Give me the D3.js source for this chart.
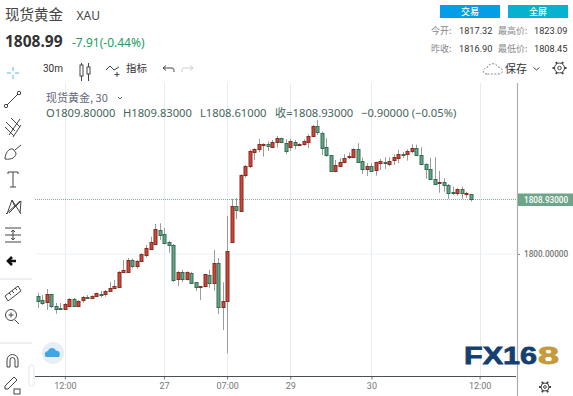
<!DOCTYPE html>
<html>
<head>
<meta charset="utf-8">
<script src="https://cdnjs.cloudflare.com/ajax/libs/d3/7.8.5/d3.min.js"></script>
<style>
  html, body { margin: 0; padding: 0; background: #fff; overflow: hidden; }
  svg { display: block; }
  text { font-family: "Noto Sans CJK SC", "Noto Sans", sans-serif; }
</style>
</head>
<body>
<svg id="chart" width="573" height="396"></svg>
<script>
// Candle values, oldest first
const opens = [1793.11,1792.46,1792.08,1793.49,1791.48,1791.15,1790.98,1791.52,1792.62,1791.52,1792.46,1792.95,1792.84,1793.00,1793.49,1793.44,1793.93,1794.43,1794.59,1796.93,1797.10,1798.97,1797.98,1798.74,1799.89,1800.82,1801.59,1803.93,1803.23,1802.02,1801.52,1795.95,1797.05,1795.79,1796.93,1795.36,1794.54,1794.64,1796.56,1795.30,1798.52,1791.26,1792.18,1801.97,1807.82,1807.10,1812.90,1814.48,1816.77,1817.16,1817.87,1817.98,1817.59,1818.36,1818.97,1818.25,1817.43,1818.41,1817.75,1817.92,1818.41,1819.34,1820.93,1819.89,1817.49,1816.18,1813.49,1814.48,1814.97,1815.79,1815.98,1817.21,1815.20,1813.88,1814.48,1813.77,1814.80,1815.03,1814.87,1815.41,1815.85,1816.34,1816.34,1816.89,1817.33,1816.18,1814.75,1813.93,1812.34,1811.69,1811.80,1811.36,1810.11,1809.89,1810.61,1809.95,1809.80];
const highs = [1793.66,1793.28,1794.26,1793.50,1791.97,1791.97,1792.02,1792.79,1792.79,1792.46,1793.11,1793.28,1793.23,1793.66,1793.98,1794.10,1795.41,1795.74,1797.21,1799.02,1799.34,1799.23,1799.02,1800.11,1801.48,1802.84,1804.92,1805.03,1804.26,1802.18,1801.64,1797.21,1797.43,1797.16,1797.05,1795.41,1794.75,1796.72,1797.38,1800.66,1799.34,1795.36,1806.23,1809.02,1809.18,1813.07,1814.59,1817.10,1817.33,1818.85,1818.15,1818.41,1818.69,1819.34,1819.07,1818.80,1818.85,1818.69,1818.15,1818.80,1819.62,1821.15,1821.97,1820.05,1818.97,1816.23,1815.41,1815.69,1816.34,1816.61,1817.33,1818.15,1815.79,1814.87,1814.87,1815.13,1815.57,1815.85,1815.85,1816.34,1817.05,1816.72,1817.16,1817.98,1817.92,1817.49,1814.87,1815.74,1815.85,1813.61,1812.41,1811.48,1811.03,1810.82,1811.03,1810.21,1809.83];
const lows = [1791.15,1791.64,1790.82,1791.15,1790.21,1790.82,1790.82,1791.48,1791.36,1791.36,1792.02,1792.67,1792.67,1792.95,1792.90,1793.00,1793.82,1794.31,1794.54,1796.89,1797.05,1797.66,1797.59,1798.69,1799.46,1800.77,1801.52,1802.30,1801.59,1800.21,1795.41,1794.75,1795.41,1795.69,1795.20,1793.93,1792.46,1794.54,1794.48,1793.98,1790.16,1787.54,1783.72,1801.85,1805.69,1807.05,1812.51,1814.05,1815.41,1816.67,1815.95,1816.89,1817.49,1817.43,1818.15,1816.39,1816.89,1817.16,1817.70,1817.75,1817.33,1819.23,1819.51,1816.23,1815.95,1813.44,1813.39,1814.43,1814.87,1815.57,1815.69,1814.97,1813.11,1812.79,1813.49,1812.84,1813.77,1813.93,1814.38,1814.59,1814.87,1815.74,1815.30,1816.51,1816.07,1814.54,1812.30,1812.13,1811.43,1810.05,1810.21,1809.02,1809.67,1809.56,1809.02,1809.18,1808.61];
const closes = [1792.34,1792.02,1793.39,1791.48,1791.03,1790.98,1791.75,1792.62,1791.52,1792.34,1792.90,1792.84,1793.11,1793.56,1793.44,1793.89,1794.48,1794.75,1797.10,1797.33,1799.02,1797.98,1798.80,1799.95,1801.03,1801.92,1804.05,1803.16,1801.69,1801.48,1795.85,1797.05,1795.85,1797.00,1795.30,1794.54,1794.70,1796.67,1795.30,1798.52,1791.26,1792.25,1800.44,1807.82,1807.10,1812.95,1814.43,1816.93,1817.21,1817.98,1818.08,1817.59,1818.36,1818.97,1818.25,1816.93,1818.48,1817.87,1817.98,1818.48,1819.34,1820.93,1819.95,1817.49,1816.11,1813.49,1814.54,1815.08,1815.69,1816.02,1817.21,1815.08,1813.88,1814.43,1813.66,1815.03,1815.20,1814.87,1815.30,1815.90,1816.44,1816.23,1816.89,1817.33,1816.11,1814.64,1813.88,1812.30,1811.52,1811.80,1811.36,1810.05,1809.95,1810.61,1809.89,1810.05,1808.93];

const timeIndex = [6, 28, 42, 56, 74, 98];
const timeLabels = ["12:00", "27", "07:00", "29", "30", "12:00"];
const priceTicks = [1800];
const lastPrice = 1808.93;

const statLabels = [["今开:", "最高价:"], ["昨收:", "最低价:"]];
const statValues = [["1817.32", "1823.09"], ["1816.90", "1808.45"]];

const width = 573;
const height = 396;
const plotTop = 83;
const axisBottomY = 376.5;
const axisRightX = 517;

const upColor = "#c8493a";
const upBorder = "#8c2a20";
const downColor = "#68a388";
const downBorder = "#2f6e52";

const svg = d3.select("#chart");

const x = d3.scaleLinear().domain([0, 98]).range([37.8, 479.6]);
const y = d3.scaleLinear().domain([1800, lastPrice]).range([254, 199.5]);

// Grid
svg.append("g")
  .selectAll("line")
  .data(timeIndex)
  .enter()
  .append("line")
  .attr("x1", d => Math.round(x(d)) + 0.5)
  .attr("x2", d => Math.round(x(d)) + 0.5)
  .attr("y1", plotTop)
  .attr("y2", axisBottomY)
  .attr("stroke", "#e4edf3")
  .attr("stroke-width", 1);

svg.append("g")
  .selectAll("line")
  .data(priceTicks)
  .enter()
  .append("line")
  .attr("x1", 35)
  .attr("x2", axisRightX)
  .attr("y1", d => y(d))
  .attr("y2", d => y(d))
  .attr("stroke", "#edf3f8")
  .attr("stroke-width", 1);

// Last price line
svg.append("line")
  .attr("x1", 35)
  .attr("x2", axisRightX)
  .attr("y1", y(lastPrice))
  .attr("y2", y(lastPrice))
  .attr("stroke", "#7fae98")
  .attr("stroke-width", 1)
  .attr("stroke-dasharray", "1 1");

// Candles
const candles = svg.append("g")
  .selectAll("g")
  .data(opens.map((o, i) => ({ i, o, h: highs[i], l: lows[i], c: closes[i] })))
  .enter()
  .append("g")
  .attr("transform", d => `translate(${Math.round(x(d.i))}, 0)`);

candles.append("line")
  .attr("x1", 0.5)
  .attr("x2", 0.5)
  .attr("y1", d => y(d.h))
  .attr("y2", d => y(d.l))
  .attr("stroke", "#9b9b9b")
  .attr("stroke-width", 1);

candles.append("rect")
  .attr("x", -1)
  .attr("width", 3)
  .attr("y", d => Math.round(y(Math.max(d.o, d.c))) + 0.5)
  .attr("height", d => Math.max(1, Math.round(Math.abs(y(d.o) - y(d.c)))))
  .attr("fill", d => d.c >= d.o ? upColor : downColor)
  .attr("stroke", d => d.c >= d.o ? upBorder : downBorder)
  .attr("stroke-width", 1);

// Axes
const xAxis = d3.axisBottom(x)
  .tickValues(timeIndex)
  .tickFormat((d, i) => timeLabels[i])
  .tickSize(3)
  .tickPadding(3);

const xAxisG = svg.append("g")
  .attr("transform", `translate(0, ${axisBottomY})`)
  .call(xAxis);
xAxisG.select(".domain").remove();
xAxisG.selectAll("line").attr("stroke", "#777");
xAxisG.selectAll("text")
  .attr("fill", "#777")
  .style("font-size", "9px")
  .style("font-family", "Roboto, sans-serif");

svg.append("line")
  .attr("x1", 35)
  .attr("x2", axisRightX - 1)
  .attr("y1", axisBottomY)
  .attr("y2", axisBottomY)
  .attr("stroke", "#4a4f5c")
  .attr("stroke-width", 1);

const yAxis = d3.axisRight(y)
  .tickValues(priceTicks)
  .tickFormat(d3.format(".5f"))
  .tickSize(3)
  .tickPadding(4);

const yAxisG = svg.append("g")
  .attr("transform", `translate(${axisRightX}, 0)`)
  .call(yAxis);
yAxisG.select(".domain").remove();
yAxisG.selectAll("line").attr("stroke", "#888");
yAxisG.selectAll("text")
  .attr("fill", "#777")
  .style("font-size", "8.2px")
  .style("font-weight", "500")
  .style("font-family", "Roboto, sans-serif");

svg.append("line")
  .attr("x1", axisRightX + 0.5)
  .attr("x2", axisRightX + 0.5)
  .attr("y1", plotTop)
  .attr("y2", height)
  .attr("stroke", "#aeaeae")
  .attr("stroke-width", 1.2);

// Last price tag
svg.append("rect")
  .attr("x", axisRightX + 1)
  .attr("y", y(lastPrice) - 6)
  .attr("width", width - axisRightX - 1)
  .attr("height", 12.5)
  .attr("fill", "#6da58a");
svg.append("text")
  .attr("x", axisRightX + 7)
  .attr("y", y(lastPrice) + 3)
  .attr("fill", "#fff")
  .style("font-size", "8.2px")
  .style("font-weight", "500")
  .style("font-family", "Roboto, sans-serif")
  .text(d3.format(".5f")(lastPrice));

// Header
function label(px, py, str, size, fill, weight) {
  return svg.append("text")
    .attr("x", px)
    .attr("y", py)
    .attr("fill", fill)
    .attr("font-weight", weight || 400)
    .style("font-size", size + "px")
    .text(str);
}

label(5, 20, "现货黄金", 14.5, "#444");
label(76.5, 20, "XAU", 12, "#444").style("font-family", "'Noto Sans', sans-serif");
label(5, 47, "1808.99", 15.5, "#333", 700).style("font-family", "'Noto Sans', sans-serif");
label(72, 46.5, "-7.91(-0.44%)", 12, "#1e9d5f").style("font-family", "'Noto Sans', sans-serif");

svg.append("rect").attr("x", 440).attr("y", 5).attr("width", 60).attr("height", 13).attr("fill", "#049ee8");
svg.append("rect").attr("x", 508).attr("y", 5).attr("width", 60).attr("height", 13).attr("fill", "#07b1cf");
label(470, 15, "交易", 9, "#fff", 500).attr("text-anchor", "middle");
label(538, 15, "全屏", 9, "#fff", 500).attr("text-anchor", "middle");

statLabels.forEach((row, r) => {
  const rowY = 34 + r * 18;
  label(431, rowY, row[0], 9, "#888");
  label(459, rowY, statValues[r][0], 9.2, "#333").style("font-family", "Roboto, sans-serif");
  label(498, rowY, row[1], 9, "#888");
  label(534, rowY, statValues[r][1], 9.2, "#333").style("font-family", "Roboto, sans-serif");
});

// Top toolbar
label(43, 72, "30m", 10, "#333").style("font-family", "Roboto, sans-serif");
label(126, 72, "指标", 10.5, "#333");
label(505, 73, "保存", 11, "#333");

const icon = svg.append("g")
  .attr("fill", "none")
  .attr("stroke", "#444")
  .attr("stroke-width", 1);

// candle icon
icon.append("path").attr("d", "M81.5 63v18M88.5 63v18");
icon.append("rect").attr("x", 80).attr("y", 65).attr("width", 3).attr("height", 11).attr("fill", "#fff");
icon.append("rect").attr("x", 87).attr("y", 67).attr("width", 3).attr("height", 7).attr("fill", "#fff");
// indicators icon
icon.append("path").attr("d", "M106 70l4-4 4 4 5-3M117 72v5M114.5 74.5h5");
// undo and redo
icon.append("path").attr("d", "M163 68h9c2 0 2 2 2 4M163 68l3-2.5M163 68l3 2.5");
icon.append("path").attr("d", "M193 68h-9c-2 0-2 2-2 4M193 68l-3-2.5M193 68l-3 2.5").attr("stroke", "#ccc");
// cloud, chevron, gear
icon.append("path")
  .attr("d", "M487 74c-5 0-5-6 0-6 1-5 9-6 11-1 5 0 6 7 1 7z")
  .attr("stroke", "#888")
  .attr("stroke-dasharray", "2 1.5");
icon.append("path").attr("d", "M533.5 67.5l3 2.5 3-2.5");

function gear(g, cx, cy, r) {
  g.append("circle").attr("cx", cx).attr("cy", cy).attr("r", r);
  g.append("circle").attr("cx", cx).attr("cy", cy).attr("r", r * 0.35);
  d3.range(6).forEach(k => {
    const a = k * Math.PI / 3;
    g.append("line")
      .attr("x1", cx + Math.cos(a) * r)
      .attr("y1", cy + Math.sin(a) * r)
      .attr("x2", cx + Math.cos(a) * (r + 2))
      .attr("y2", cy + Math.sin(a) * (r + 2))
      .attr("stroke-width", 2);
  });
}
gear(icon, 559.5, 68, 5);
gear(svg.append("g").attr("fill", "none").attr("stroke", "#444"), 545, 387, 4);

// Left toolbar
const tools = svg.append("g")
  .attr("fill", "none")
  .attr("stroke", "#444")
  .attr("stroke-width", 1);

tools.append("path")
  .attr("d", "M13 67v4M13 75v4M7 73h4M15 73h4")
  .attr("stroke", "#8fd0f2")
  .attr("stroke-width", 1.5);
tools.append("path").attr("d", "M7 105l11-11");
tools.append("circle").attr("cx", 6).attr("cy", 106).attr("r", 1.7);
tools.append("circle").attr("cx", 19).attr("cy", 93).attr("r", 1.7);
tools.append("path").attr("d", "M6 122l9 9M5 127l9 9M11 118l9 9M9 135l11-16M13 137l8-12");
tools.append("path").attr("d", "M5 159c0-6 4-11 8-10l3 4c0 4-4 7-11 6zM15 150l6-5");
tools.append("path").attr("d", "M8 174v-2h10v2M13 172v15M10 187h6");
tools.append("path").attr("d", "M7 214l5-14 9 14M12 200l3 7-6 6M15 207l6-6-1 12M6 214l14-13");
tools.append("path").attr("d", "M5 228h16M5 235h16M5 242h16M13 230v10M11 232l2-2 2 2M11 238l2 2 2-2");
tools.append("path")
  .attr("d", "M16 261H9M12 257l-4 4 4 4")
  .attr("stroke", "#111")
  .attr("stroke-width", 2.6);
tools.append("path").attr("d", "M5 296l13-10 3 5-13 10zM9 293l2 2M12 291l2 2M15 288l2 2");
tools.append("circle").attr("cx", 11).attr("cy", 315).attr("r", 5.5);
tools.append("path").attr("d", "M15 320l4 4M8.5 315h5M11 312.5v5");
tools.append("path").attr("d", "M7 367v-7a5.5 5.5 0 0 1 11 0v7h-3v-7a2.5 2.5 0 0 0-5 0v7z");
tools.append("path").attr("d", "M5 386l9-9 3 3-9 9-3 0z");
tools.append("rect").attr("x", 14).attr("y", 389).attr("width", 6).attr("height", 5);

// tool separators
svg.append("g")
  .selectAll("line")
  .data([279, 343])
  .enter()
  .append("line")
  .attr("x1", 0)
  .attr("x2", 32)
  .attr("y1", d => d)
  .attr("y2", d => d)
  .attr("stroke", "#dcdfe8");

svg.append("rect")
  .attr("x", 29).attr("y", 365).attr("width", 5).attr("height", 21).attr("rx", 2)
  .attr("fill", "#fff").attr("stroke", "#e2e6ec");

// Blue cloud badge
svg.append("circle").attr("cx", 53).attr("cy", 353).attr("r", 11).attr("fill", "#e8eef5");
svg.append("path")
  .attr("d", "M46 357c-3-3 0-6 2-6 1-4 7-4 8 0 3-1 5 3 3 6z")
  .attr("fill", "#3ea6e4");

// Chart legend
label(46, 102, "现货黄金, 30", 11, "#667");
svg.append("path").attr("d", "M118 97l2 2 2-2").attr("fill", "none").attr("stroke", "#667");

const legendY = 117;
const legendColor = "#44665a";
[[46, "O1809.80000"], [123, "H1809.83000"], [200, "L1808.61000"], [275, "收=1808.93000"], [361, "−0.90000 (−0.05%)"]]
  .forEach(d => label(d[0], legendY, d[1], 11.2, legendColor).style("font-family", "'Noto Sans', 'Noto Sans CJK SC', sans-serif"));

// Watermark
const logo = svg.append("g").attr("stroke-width", 0.8);
logo.append("text").attr("x", 464).attr("y", 364)
  .attr("textLength", 73).attr("lengthAdjust", "spacingAndGlyphs")
  .attr("fill", "#14406f").attr("stroke", "#14406f")
  .attr("font-weight", 700)
  .style("font-family", "Liberation Sans, sans-serif")
  .style("font-size", "24.5px").text("FX16");
logo.append("text").attr("x", 538).attr("y", 364)
  .attr("textLength", 21).attr("lengthAdjust", "spacingAndGlyphs")
  .attr("fill", "#c49a3a").attr("stroke", "#c49a3a")
  .attr("font-weight", 700)
  .style("font-family", "Liberation Sans, sans-serif")
  .style("font-size", "24.5px").text("8");
</script>
</body>
</html>
